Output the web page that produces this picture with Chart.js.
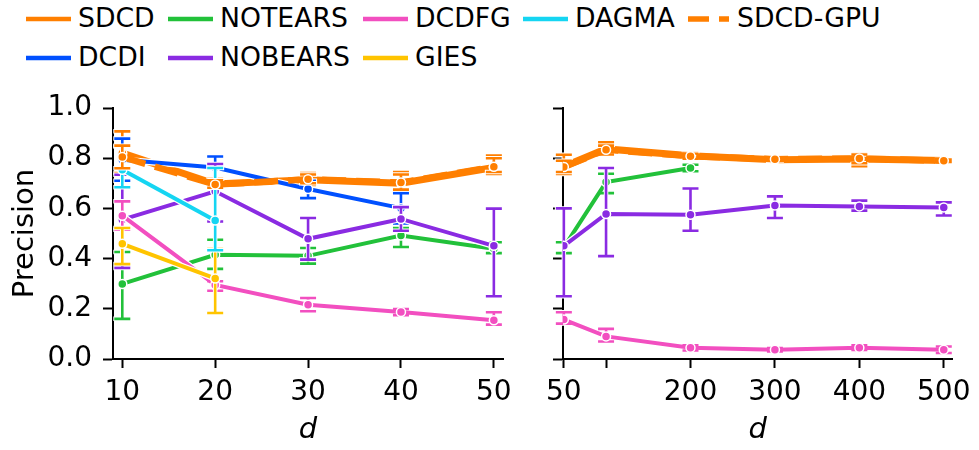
<!DOCTYPE html>
<html><head><meta charset="utf-8">
<script src="https://cdn.jsdelivr.net/npm/chart.js@4/dist/chart.umd.min.js"></script>
<style>
html,body{margin:0;padding:0;background:#fff;}
#wrap{position:relative;width:979px;height:450px;overflow:hidden;font-family:"DejaVu Sans",sans-serif;}
.lg{position:absolute;font-size:26.7px;color:#000;line-height:30px;white-space:nowrap;}
.sw{position:absolute;}
</style></head>
<body><div id="wrap">
<div id="legend"></div>
<canvas id="c1" width="520" height="450" style="position:absolute;left:0;top:0"></canvas>
<canvas id="c2" width="459" height="450" style="position:absolute;left:520px;top:0"></canvas>
</div>
<script>
// ---------- data ----------
const methods = ['SDCD','DCDI','NOTEARS','NOBEARS','DCDFG','GIES','DAGMA','SDCD-GPU'];
const xLeft = [10,20,30,40,50];
const xRight = [50,100,200,300,400,500];
const xTicksLeft = [10,20,30,40,50];
const xTicksRight = [50,100,200,300,400,500];
const xTickLabelsRight = ['50','','200','300','400','500'];
const yTicks = [0,0.2,0.4,0.6,0.8,1.0];

// left panel (d = 10..50)
const sdcdL     = [0.820,0.697,0.714,0.700,0.763];
const sdcdLLo   = [0.741,0.680,0.693,0.660,0.737];
const sdcdLHi   = [0.907,0.718,0.741,0.745,0.811];
const dcdiL     = [0.794,0.763,0.677,0.601,null];
const dcdiLLo   = [0.710,0.714,0.641,0.540,null];
const dcdiLHi   = [0.878,0.807,0.710,0.661,null];
const notearsL  = [0.299,0.415,0.411,0.492,0.439];
const notearsLLo= [0.160,0.359,0.380,0.446,0.422];
const notearsLHi= [0.426,0.475,0.442,0.522,0.465];
const nobearsL  = [0.555,0.668,0.479,0.558,0.451];
const nobearsLLo= [0.363,0.548,0.396,0.511,0.250];
const nobearsLHi= [0.734,0.777,0.562,0.605,0.599];
const dcdfgL    = [0.571,0.295,0.216,0.187,0.154];
const dcdfgLLo  = [0.515,0.272,0.190,0.175,0.137];
const dcdfgLHi  = [0.628,0.310,0.243,0.199,0.186];
const giesL     = [0.459,0.321,null,null,null];
const giesLLo   = [0.378,0.183,null,null,null];
const giesLHi   = [0.522,0.438,null,null,null];
const dagmaL    = [0.754,0.552,null,null,null];
const dagmaLLo  = [0.684,0.433,null,null,null];
const dagmaLHi  = [0.847,0.761,null,null,null];
const sdcdGpuL  = [0.805,0.695,0.716,0.703,0.766];
const sdcdGpuLLo= [0.760,0.682,0.700,0.675,0.745];
const sdcdGpuLHi= [0.850,0.712,0.735,0.735,0.800];

// right panel (d = 50..500)
const sdcdR     = [0.767,0.837,0.810,0.794,0.797,0.791];
const sdcdRLo   = [0.737,0.814,0.797,0.790,0.768,0.786];
const sdcdRHi   = [0.814,0.863,0.821,0.798,0.817,0.796];
const notearsR  = [0.445,0.705,0.761,null,null,null];
const notearsRLo= [0.422,0.661,0.748,null,null,null];
const notearsRHi= [0.465,0.738,0.774,null,null,null];
const nobearsR  = [0.451,0.578,0.575,0.612,0.608,0.604];
const nobearsRLo= [0.250,0.410,0.511,0.562,0.591,0.572];
const nobearsRHi= [0.600,0.761,0.679,0.648,0.631,0.624];
const dcdfgR    = [0.157,0.090,0.045,0.037,0.045,0.037];
const dcdfgRLo  = [0.141,0.070,0.034,0.030,0.036,0.024];
const dcdfgRHi  = [0.186,0.120,0.055,0.044,0.055,0.050];
const sdcdGpuR  = [0.765,0.834,0.808,0.796,0.799,0.790];
const sdcdGpuRLo= [0.745,0.815,0.798,0.790,0.780,0.785];
const sdcdGpuRHi= [0.790,0.850,0.818,0.800,0.815,0.795];

// ---------- styles ----------
const colors = {
  'SDCD':'#ff7f00','DCDI':'#0050ff','NOTEARS':'#22c13a','NOBEARS':'#8a2be2',
  'DCDFG':'#f24fc0','GIES':'#ffc400','DAGMA':'#15d5f2','SDCD-GPU':'#ff7f00'
};
const widths = {'SDCD':7,'SDCD-GPU':6.5};
const FONT = "'DejaVu Sans'";

// ---------- legend (HTML text) ----------
const legendPos = {
  'SDCD':[26,19],'DCDI':[26,58],'NOTEARS':[168,19],'NOBEARS':[168,58],
  'DCDFG':[363,19],'GIES':[363,58],'DAGMA':[523,19],'SDCD-GPU':[688,19]
};
const lg = document.getElementById('legend');
methods.forEach(m => {
  const [x,y] = legendPos[m];
  const dash = m === 'SDCD-GPU';
  const svg = `<svg class="sw" style="left:${x}px;top:${y-5}px" width="46" height="10">
    <line x1="0" y1="5" x2="${dash?41:45}" y2="5" stroke="${colors[m]}" stroke-width="${dash?5.5:4.5}" ${dash?'stroke-dasharray="21,10"':''}/></svg>`;
  lg.insertAdjacentHTML('beforeend', svg + `<div class="lg" style="left:${x+(dash?49:52)}px;top:${y-16}px">${m}</div>`);
});

// ---------- helpers ----------
function series(xs, vals, lo, hi) {
  const pts = [], l = [], h = [];
  xs.forEach((x,i) => { if (vals[i] !== null) { pts.push({x, y: vals[i]}); l.push(lo[i]); h.push(hi[i]); } });
  return {pts, l, h};
}
function makeDatasets(list) {
  return list.map(([name, s], i) => ({
    label: name,
    data: s.pts, errLo: s.l, errHi: s.h,
    halo: name !== 'SDCD-GPU',
    borderColor: colors[name], backgroundColor: colors[name],
    borderWidth: widths[name] || 4,
    borderDash: name === 'SDCD-GPU' ? [24,10] : [],
    pointRadius: 4.5, pointBorderColor: '#fff', pointBorderWidth: 1.5,
    pointBackgroundColor: colors[name],
    tension: 0, order: 100 - i
  }));
}

const errorBarPlugin = {
  id: 'errorBars',
  beforeDatasetDraw(chart, args) {
    const meta = args.meta, ds = chart.data.datasets[args.index];
    const ctx = chart.ctx, ys = chart.scales.y;
    ctx.save();
    ctx.beginPath();
    ctx.rect(chart.chartArea.left - 20, chart.chartArea.top - 20, chart.chartArea.right - chart.chartArea.left + 40, chart.chartArea.bottom - chart.chartArea.top + 20);
    ctx.clip();
    if (ds.halo) {
      ctx.lineJoin = 'round';
      ctx.strokeStyle = '#fff';
      ctx.lineWidth = ds.borderWidth + 2.5;
      ctx.beginPath();
      meta.data.forEach((p,i) => i ? ctx.lineTo(p.x,p.y) : ctx.moveTo(p.x,p.y));
      ctx.stroke();
    }
    const cap = 8;
    [['#fff', 4.5, 1], [ds.borderColor, 2.6, 0]].forEach(([col, lw, ext]) => {
      ctx.strokeStyle = col; ctx.lineWidth = lw; ctx.lineCap = 'butt';
      meta.data.forEach((p,i) => {
        const y1 = ys.getPixelForValue(ds.errLo[i]), y2 = ys.getPixelForValue(ds.errHi[i]);
        ctx.beginPath();
        ctx.moveTo(p.x, y1 + ext); ctx.lineTo(p.x, y2 - ext);
        ctx.moveTo(p.x - cap - ext, y1); ctx.lineTo(p.x + cap + ext, y1);
        ctx.moveTo(p.x - cap - ext, y2); ctx.lineTo(p.x + cap + ext, y2);
        ctx.stroke();
      });
    });
    ctx.restore();
  }
};

function makeOptions(xmin, xmax, xticks, xlabels, showY, yWidth, padLeft, padRight) {
  return {
    responsive: false, animation: false,
    layout: {padding: {top: 108, right: padRight, left: padLeft, bottom: 0}},
    plugins: {legend: {display: false}, tooltip: {enabled: false}},
    scales: {
      x: {
        type: 'linear', min: xmin, max: xmax,
        afterBuildTicks: s => { s.ticks = xticks.map(v => ({value: v})); },
        afterFit: s => { s.height = 91; },
        ticks: {
          autoSkip: false, maxRotation: 0, color: '#000', padding: 8,
          font: {family: FONT, size: 28},
          callback: (v) => { const k = xticks.indexOf(v); return k >= 0 ? xlabels[k] : ''; }
        },
        grid: {drawOnChartArea: false, drawTicks: true, tickLength: 9, tickWidth: 2, color: '#000'},
        border: {display: true, color: '#000', width: 2},
        title: {display: true, text: 'd', color: '#000', padding: {top: 0, bottom: 2},
                font: {family: FONT, size: 29, style: 'italic'}}
      },
      y: {
        type: 'linear', min: 0, max: 1,
        afterBuildTicks: s => { s.ticks = yTicks.map(v => ({value: v})); },
        afterFit: s => { s.width = yWidth; },
        ticks: {
          color: '#000', padding: 11, font: {family: FONT, size: 28},
          callback: v => showY ? v.toFixed(1) : ''
        },
        grid: {drawOnChartArea: false, drawTicks: true, tickLength: 10, tickWidth: 2, color: '#000'},
        border: {display: true, color: '#000', width: 2},
        title: {display: showY, text: 'Precision', color: '#000', padding: {top: 8, bottom: 0},
                font: {family: FONT, size: 29}}
      }
    }
  };
}

const leftSets = makeDatasets([
  ['SDCD', series(xLeft, sdcdL, sdcdLLo, sdcdLHi)],
  ['DCDI', series(xLeft, dcdiL, dcdiLLo, dcdiLHi)],
  ['NOTEARS', series(xLeft, notearsL, notearsLLo, notearsLHi)],
  ['NOBEARS', series(xLeft, nobearsL, nobearsLLo, nobearsLHi)],
  ['DCDFG', series(xLeft, dcdfgL, dcdfgLLo, dcdfgLHi)],
  ['GIES', series(xLeft, giesL, giesLLo, giesLHi)],
  ['DAGMA', series(xLeft, dagmaL, dagmaLLo, dagmaLHi)],
  ['SDCD-GPU', series(xLeft, sdcdGpuL, sdcdGpuLLo, sdcdGpuLHi)]
]);
const rightSets = makeDatasets([
  ['SDCD', series(xRight, sdcdR, sdcdRLo, sdcdRHi)],
  ['NOTEARS', series(xRight, notearsR, notearsRLo, notearsRHi)],
  ['NOBEARS', series(xRight, nobearsR, nobearsRLo, nobearsRHi)],
  ['DCDFG', series(xRight, dcdfgR, dcdfgRLo, dcdfgRHi)],
  ['SDCD-GPU', series(xRight, sdcdGpuR, sdcdGpuRLo, sdcdGpuRHi)]
]);

new Chart(document.getElementById('c1'), {
  type: 'line', data: {datasets: leftSets},
  options: makeOptions(9, 51, xTicksLeft, xTicksLeft.map(String), true, 113, 0, 14),
  plugins: [errorBarPlugin]
});
new Chart(document.getElementById('c2'), {
  type: 'line', data: {datasets: rightSets},
  options: makeOptions(49, 510, xTicksRight, xTickLabelsRight, false, 43, 0, 23),
  plugins: [errorBarPlugin]
});
</script>
</body></html>
